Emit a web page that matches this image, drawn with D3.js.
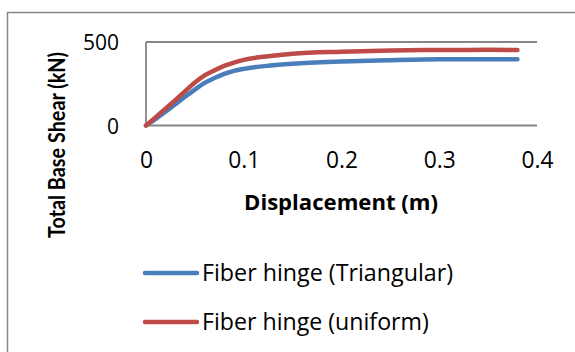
<!DOCTYPE html>
<html>
<head>
<meta charset="utf-8">
<script src="https://cdn.jsdelivr.net/npm/d3@7"></script>
<style>
html,body{margin:0;padding:0;background:#fff;}
svg{display:block;}
</style>
</head>
<body>
<svg id="chart" width="575" height="352"></svg>
<script>
const displacement = [0, 0.01, 0.02, 0.03, 0.04, 0.05, 0.06, 0.07, 0.08, 0.09, 0.1, 0.125, 0.15, 0.2, 0.25, 0.3, 0.35, 0.38];
const triangular   = [0, 40, 82, 127, 172, 215, 255, 284, 309, 327, 339, 358, 370, 383, 391, 396, 397, 397];
const uniform      = [0, 50, 101, 152, 205, 257, 300, 330, 357, 377, 393, 415, 430, 442, 449, 452, 453, 452];
const seriesNames  = ["Fiber hinge (Triangular)", "Fiber hinge (uniform)"];
const seriesColors = ["#4A7EBB", "#BE4B48"];
const xTicks = [0, 0.1, 0.2, 0.3, 0.4];
const yTicks = [0, 500];
const xTitle = "Displacement (m)";
const yTitle = "Total Base Shear (kN)";

const svg = d3.select("#chart");
const grey = "#868686";
const mainFont = "'Open Sans', sans-serif";

// scale a text's font-size so that its width matches a target width
function fit(sel, target) {
  sel.each(function() {
    const fs = parseFloat(this.getAttribute("font-size"));
    const w = this.getComputedTextLength();
    if (w > 0) this.setAttribute("font-size", (fs * target / w).toFixed(2));
  });
}

// outer chart border
svg.append("rect").attr("x", 7.5).attr("y", 12.5).attr("width", 600).attr("height", 400)
  .attr("fill", "none").attr("stroke", grey).attr("stroke-width", 1.5);

const x = d3.scaleLinear().domain([0, 0.4]).range([146, 537]);
const y = d3.scaleLinear().domain([0, 500]).range([125.5, 42]);

// gridlines
svg.append("g").selectAll("line").data(yTicks).join("line")
  .attr("x1", x(0)).attr("x2", x(0.4))
  .attr("y1", d => y(d)).attr("y2", d => y(d))
  .attr("stroke", grey).attr("stroke-width", 1.8);
// y axis line
svg.append("line").attr("x1", x(0)).attr("x2", x(0)).attr("y1", y(0)).attr("y2", y(500))
  .attr("stroke", grey).attr("stroke-width", 1.8);

// y tick labels
const yAxis = d3.axisLeft(y).tickValues(yTicks).tickSize(0).tickPadding(0).tickFormat(d3.format("d"));
const gy = svg.append("g").attr("transform", "translate(119,0)").call(yAxis);
gy.select(".domain").remove();
gy.attr("font-family", null).attr("font-size", null);
gy.selectAll("text").attr("font-size", 19).style("font-family", mainFont).attr("dy", "0.36em").attr("fill", "#000");
fit(gy.selectAll("text").filter(d => d === 500), 36);
gy.selectAll("text").attr("font-size", gy.selectAll("text").filter(d => d === 500).attr("font-size"));

// x tick labels
const xAxis = d3.axisBottom(x).tickValues(xTicks).tickSize(0).tickPadding(0).tickFormat(d => d === 0 ? "0" : d3.format(".1f")(d));
const gx = svg.append("g").attr("transform", "translate(0,160)").call(xAxis);
gx.select(".domain").remove();
gx.attr("font-family", null).attr("font-size", null);
gx.selectAll("text").attr("font-size", 19).style("font-family", mainFont).attr("dy", "0.36em").attr("fill", "#000");
fit(gx.selectAll("text").filter(d => d === 0.1), 32);
gx.selectAll("text").attr("font-size", gx.selectAll("text").filter(d => d === 0.1).attr("font-size"));

// series lines
const line = d3.line().x(d => x(d[0])).y(d => y(d[1])).curve(d3.curveMonotoneX);
[triangular, uniform].forEach((vals, i) => {
  svg.append("path").datum(displacement.map((d, j) => [d, vals[j]]))
    .attr("d", line).attr("fill", "none").attr("stroke", seriesColors[i])
    .attr("stroke-width", 4.5).attr("stroke-linecap", "round").attr("stroke-linejoin", "round");
});

// axis titles
const xt = svg.append("text").attr("x", 341).attr("y", 202).attr("dy", "0.36em")
  .attr("text-anchor", "middle").attr("font-weight", "bold").style("font-family", mainFont)
  .attr("font-size", 19).text(xTitle);
fit(xt, 194);
const yt = svg.append("text").attr("transform", "translate(57,145) scale(1.18,1) rotate(-90)").attr("dy", "0.36em")
  .attr("text-anchor", "middle").attr("font-weight", "bold").style("font-family", "Lato, sans-serif")
  .attr("font-size", 19).text(yTitle);
fit(yt, 186);

// legend
const legendY = [273, 322];
const legendW = [251, 227];
seriesNames.forEach((name, i) => {
  svg.append("line").attr("x1", 145).attr("x2", 197).attr("y1", legendY[i]).attr("y2", legendY[i])
    .attr("stroke", seriesColors[i]).attr("stroke-width", 4.5).attr("stroke-linecap", "round");
  const t = svg.append("text").attr("x", 202).attr("y", legendY[i]).attr("dy", "0.36em")
    .style("font-family", mainFont).attr("font-size", 20).text(name);
  fit(t, legendW[i]);
});
</script>
</body>
</html>
